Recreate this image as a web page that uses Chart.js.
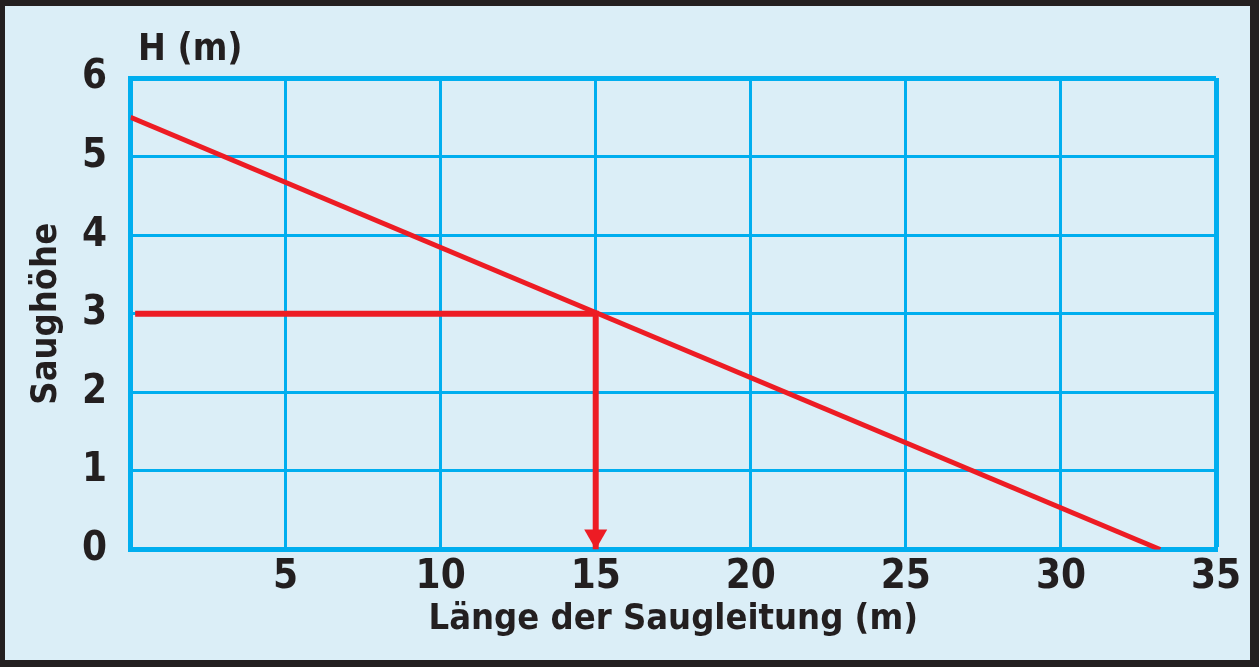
<!DOCTYPE html>
<html lang="de">
<head>
<meta charset="utf-8">
<title>Saughöhe / Länge der Saugleitung</title>
<script src="https://cdn.jsdelivr.net/npm/chart.js@4.4.1/dist/chart.umd.min.js"></script>
<style>
  html, body { margin: 0; padding: 0; background: #231f20; overflow: hidden; }
  #frame {
    position: relative;
    width: 1245px;
    height: 654px;
    background: #dbeef7;
    border-style: solid;
    border-color: #231f20;
    border-width: 6px 9px 7px 5px;
  }
</style>
</head>
<body>
<div id="frame"><canvas id="chart"></canvas></div>
<script>
  // ── Data ──────────────────────────────────────────────────────────── //
  // Kennlinie: Saughöhe H (m) über Länge der Saugleitung (m)
  var lengthM = [0, 33.2];
  var heightM = [5.5, 0];

  // Ablesebeispiel: 3 m Saughöhe -> 15 m Leitung
  var guideX = [0.15, 15, 15];
  var guideY = [3, 3, 0];

  var xMin = 0, xMax = 35, xStep = 5;
  var yMin = 0, yMax = 6, yStep = 1;

  var FONT = '"DejaVu Sans Condensed", "DejaVu Sans", sans-serif';
  var INK = '#231f20';
  var GRID = '#00aeef';
  var RED = '#ed1c24';

  function toPoints(xs, ys) {
    return xs.map(function (x, i) { return { x: x, y: ys[i] }; });
  }

  // corner label "H (m)" above the plot and the arrow head on the guide
  var extras = {
    id: 'extras',
    afterDatasetsDraw: function (chart) {
      var ctx = chart.ctx;
      var xs = chart.scales.x, ys = chart.scales.y;
      var area = chart.chartArea;

      var tipX = xs.getPixelForValue(guideX[guideX.length - 1]);
      var tipY = ys.getPixelForValue(guideY[guideY.length - 1]);
      ctx.save();
      ctx.fillStyle = RED;
      ctx.beginPath();
      ctx.moveTo(tipX, tipY);
      ctx.lineTo(tipX - 11.5, tipY - 20);
      ctx.lineTo(tipX + 11.5, tipY - 20);
      ctx.closePath();
      ctx.fill();

      ctx.fillStyle = INK;
      ctx.font = 'bold 37px ' + FONT;
      ctx.textAlign = 'left';
      ctx.textBaseline = 'alphabetic';
      ctx.fillText('H (m)', area.left + 7.5, area.top - 18);
      ctx.restore();
    }
  };

  new Chart(document.getElementById('chart').getContext('2d'), {
    type: 'scatter',
    data: {
      datasets: [
        {
          data: toPoints(lengthM, heightM),
          showLine: true,
          borderColor: RED,
          borderWidth: 5,
          pointRadius: 0,
          tension: 0,
        },
        {
          data: toPoints(guideX, guideY),
          showLine: true,
          borderColor: RED,
          borderWidth: 6,
          borderJoinStyle: 'miter',
          pointRadius: 0,
          tension: 0,
        },
      ],
    },
    options: {
      responsive: true,
      maintainAspectRatio: false,
      animation: false,
      events: [],
      layout: { padding: { top: 72, right: 34, left: 0, bottom: 0 } },
      plugins: {
        legend: { display: false },
        tooltip: { enabled: false },
      },
      scales: {
        x: {
          type: 'linear',
          min: xMin,
          max: xMax,
          afterFit: function (s) { s.height = 110.5; s.paddingLeft = 0; s.paddingRight = 0; },
          grid: {
            color: GRID,
            drawTicks: false,
            lineWidth: function (c) { return c.tick && c.tick.value === xMax ? 5 : 3; },
          },
          border: { display: true, color: GRID, width: 5 },
          ticks: {
            stepSize: xStep,
            padding: 4.5,
            color: INK,
            font: { family: FONT, size: 40, weight: 'bold' },
            callback: function (v) { return v === 0 ? '' : v; },
          },
          title: {
            display: true,
            text: 'Länge der Saugleitung (m)',
            color: INK,
            font: { family: FONT, size: 36, weight: 'bold' },
            padding: { top: 0, bottom: 18.5 },
          },
        },
        y: {
          type: 'linear',
          min: yMin,
          max: yMax,
          afterFit: function (s) { s.width = 125.5; s.paddingTop = 0; s.paddingBottom = 0; },
          grid: {
            color: GRID,
            drawTicks: false,
            lineWidth: function (c) { return c.tick && c.tick.value === yMax ? 5 : 3; },
          },
          border: { display: true, color: GRID, width: 5 },
          ticks: {
            stepSize: yStep,
            padding: 23.5,
            color: INK,
            font: { family: FONT, size: 40, weight: 'bold' },
          },
          title: {
            display: true,
            text: 'Saughöhe',
            color: INK,
            font: { family: FONT, size: 36, weight: 'bold' },
            padding: { top: 20, bottom: 0 },
          },
        },
      },
    },
    plugins: [extras],
  });
</script>
</body>
</html>
